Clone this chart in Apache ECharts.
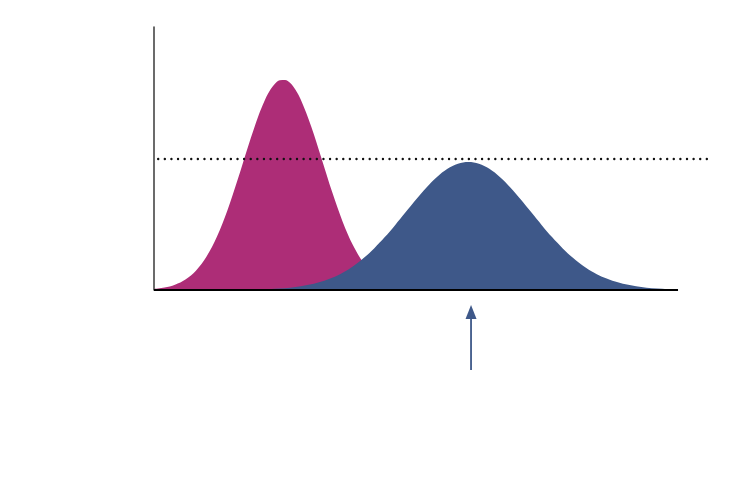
<!DOCTYPE html>
<html><head><meta charset="utf-8">
<script src="https://cdn.jsdelivr.net/npm/echarts@6/dist/echarts.min.js"></script>
<style>html,body{margin:0;padding:0;background:#fff}#c{width:750px;height:492px}</style>
</head><body><div id="c"></div>
<script>
// x positions (arbitrary units along the horizontal axis)
const xsA = [0,0.2,0.4,0.6,0.8,1.0,1.2,1.4,1.6,1.8,2.0,2.1,2.2,2.3,2.4,2.5,2.6,2.7,2.8,3.0,3.2,3.4,3.6,3.8,4.0,4.2,4.4,4.6,4.8,5.0,5.2,5.4,5.6];
const magentaValues = [0.0042,0.0096,0.0203,0.0400,0.0736,0.1264,0.2024,0.3025,0.4218,0.5487,0.6661,0.7151,0.7546,0.7825,0.7975,0.7989,0.7866,0.7611,0.7239,0.6215,0.4980,0.3723,0.2598,0.1690,0.1027,0.0582,0.0308,0.0152,0.0070,0.0030,0.0012,0.0005,0];
const xsB = [2.0,2.2,2.4,2.6,2.8,3.0,3.2,3.4,3.6,3.8,4.0,4.2,4.4,4.6,4.8,5.0,5.2,5.4,5.6,5.8,6.0,6.2,6.4,6.6,6.8,7.0,7.2,7.4,7.6,7.8,8.0,8.2,8.4,8.6,8.8,9.0,9.2,9.4,9.6,9.8,10.0];
const blueValues = [0.0019,0.0032,0.0054,0.0088,0.0139,0.0214,0.0320,0.0466,0.0659,0.0907,0.1215,0.1581,0.2002,0.2466,0.2954,0.3441,0.3899,0.4298,0.4607,0.4803,0.4870,0.4803,0.4607,0.4298,0.3899,0.3441,0.2954,0.2466,0.2002,0.1581,0.1215,0.0907,0.0659,0.0466,0.0320,0.0214,0.0139,0.0088,0.0054,0.0032,0.0019];
const thresholdValue = 0.50;
const markerX = 6.05;
const arrowFromY = -0.304;
const arrowToY = -0.057;
const axisEndX = 10;
const xMaxView = 10.572;

const chart = echarts.init(document.getElementById('c'), null, {renderer:'canvas'});
chart.setOption({
  animation: false,
  grid: {left:154, right:42, top:27, bottom:202},
  xAxis: {type:'value', min:0, max:xMaxView, axisLine:{show:false}, axisTick:{show:false}, axisLabel:{show:false}, splitLine:{show:false}},
  yAxis: {type:'value', min:0, max:1, axisLine:{show:true, lineStyle:{color:'#3a3a3a', width:1.5}}, axisTick:{show:false}, axisLabel:{show:false}, splitLine:{show:false}},
  series: [
    {
      type:'line', smooth:0.35, symbol:'none',
      data: xsA.map((x,i)=>[x, magentaValues[i]]),
      lineStyle:{width:0}, areaStyle:{color:'#AD2D77', opacity:1}, itemStyle:{color:'#AD2D77'},
      z:2
    },
    {
      type:'line', smooth:0.35, symbol:'none',
      data: xsB.map((x,i)=>[x, blueValues[i]]),
      lineStyle:{width:0}, areaStyle:{color:'#3E5889', opacity:1}, itemStyle:{color:'#3E5889'},
      z:3,
      markLine: {
        silent:true, animation:false, label:{show:false},
        data: [
          [{coord:[0,0], symbol:'none', lineStyle:{color:'#000', width:2, type:'solid'}},
           {coord:[axisEndX,0], symbol:'none'}],
          [{coord:[0.08,thresholdValue], symbol:'none', lineStyle:{color:'#111', width:2.4, type:[0.01,6.6], cap:'round'}},
           {coord:[xMaxView,thresholdValue], symbol:'none'}]
        ]
      }
    }
  ]
});

// arrow below the axis, positioned through the chart's own scales
const pFrom = chart.convertToPixel({gridIndex:0}, [markerX, arrowFromY]);
const pTo = chart.convertToPixel({gridIndex:0}, [markerX, arrowToY]);
chart.setOption({
  graphic: [
    {type:'line', shape:{x1:pFrom[0], y1:pFrom[1], x2:pTo[0], y2:pTo[1]+12}, style:{stroke:'#3E5889', lineWidth:1.8}, silent:true, z:10},
    {type:'polygon', shape:{points:[[pTo[0], pTo[1]], [pTo[0]-5.5, pTo[1]+14], [pTo[0]+5.5, pTo[1]+14]]}, style:{fill:'#3E5889'}, silent:true, z:10}
  ]
});
</script>
</body></html>
